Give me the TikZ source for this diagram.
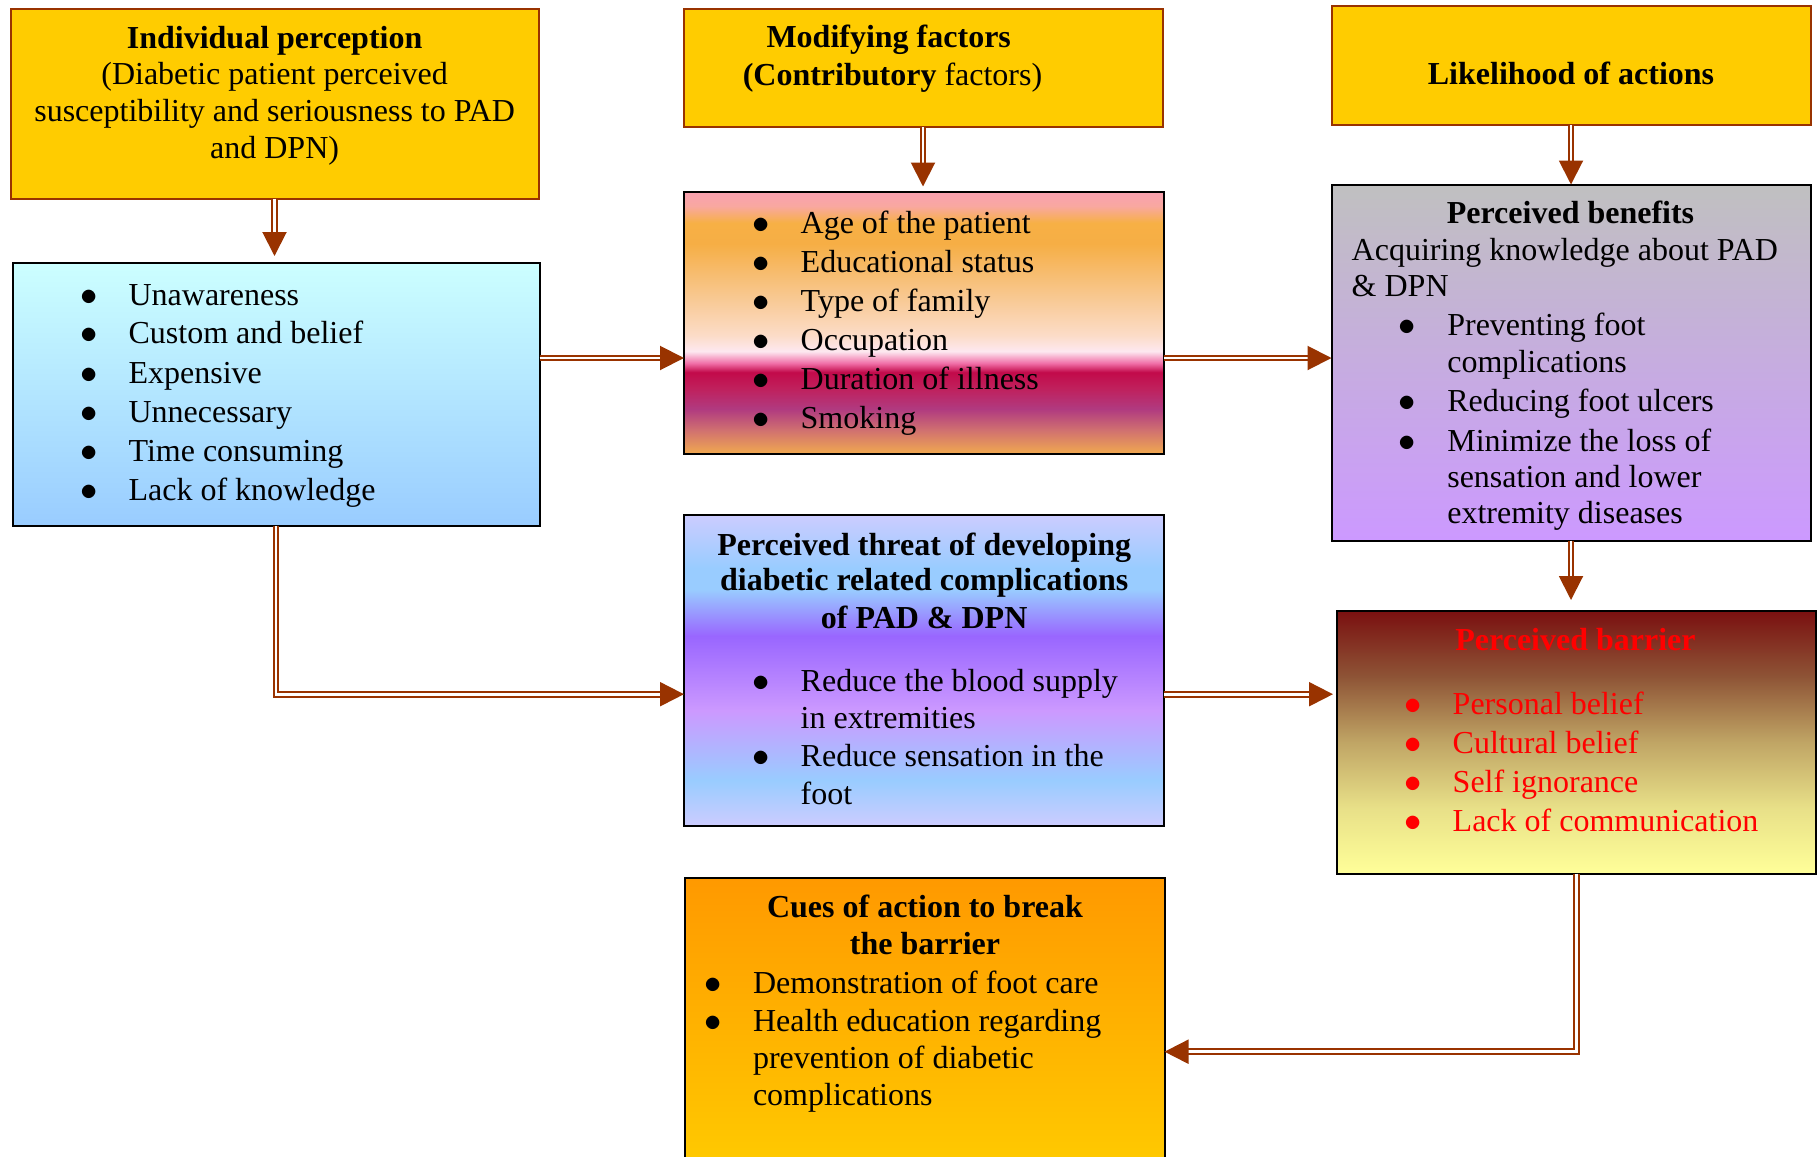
\documentclass[tikz,border=0pt]{standalone}
\usepackage{fontspec}
\setmainfont{Liberation Serif}
\usetikzlibrary{arrows.meta}
\definecolor{arrc}{HTML}{993300}
\definecolor{gold}{HTML}{FFCC00}
\definecolor{bluetop}{HTML}{CCFFFF}
\definecolor{bluebot}{HTML}{99CCFF}
\definecolor{greytop}{HTML}{C0C0C0}
\definecolor{lavbot}{HTML}{CC99FF}
\definecolor{cuetop}{HTML}{FF9900}
\definecolor{cuebot}{HTML}{FFCC00}
\definecolor{redtxt}{HTML}{FF0000}
% modifying factors shading
\definecolor{mA}{HTML}{F0A850}
\definecolor{mB}{HTML}{D07070}
\definecolor{mC}{HTML}{B03A80}
\definecolor{mD}{HTML}{C0205C}
\definecolor{mE}{HTML}{C20A4A}
\definecolor{mF}{HTML}{F070A8}
\definecolor{mG}{HTML}{FDE8F0}
\definecolor{mH}{HTML}{FCDCC8}
\definecolor{mI}{HTML}{F8C890}
\definecolor{mJ}{HTML}{F6AE45}
\definecolor{mK}{HTML}{F7B045}
\definecolor{mL}{HTML}{F9A8A0}
\definecolor{mM}{HTML}{F9A0B0}
\pgfdeclareverticalshading{shmod}{100bp}{color(0bp)=(mA); color(25bp)=(mA); color(29.5bp)=(mB); color(33.5bp)=(mC); color(37.5bp)=(mD); color(40.5bp)=(mE); color(42.25bp)=(mF); color(44.5bp)=(mG); color(47.5bp)=(mH); color(55bp)=(mI); color(65bp)=(mJ); color(69bp)=(mK); color(72.2bp)=(mL); color(75bp)=(mM); color(100bp)=(mM)}
% threat shading
\definecolor{tA}{HTML}{CCCCFF}
\definecolor{tB}{HTML}{99CCFF}
\definecolor{tC}{HTML}{9966FF}
\definecolor{tD}{HTML}{CC99FF}
\pgfdeclareverticalshading{shthreat}{100bp}{color(0bp)=(tA); color(25bp)=(tA); color(32.25bp)=(tB); color(43.5bp)=(tD); color(55.5bp)=(tC); color(63bp)=(tB); color(66.5bp)=(tB); color(75bp)=(tA); color(100bp)=(tA)}
% barrier shading
\definecolor{rA}{HTML}{7A1010}
\definecolor{rB}{HTML}{8E5436}
\definecolor{rC}{HTML}{C0A565}
\definecolor{rD}{HTML}{E8E088}
\definecolor{rE}{HTML}{FFFF99}
\pgfdeclareverticalshading{shbar}{100bp}{color(0bp)=(rE); color(25bp)=(rE); color(37.5bp)=(rD); color(50bp)=(rC); color(62.5bp)=(rB); color(75bp)=(rA); color(100bp)=(rA)}
\newcommand\mybul{\llap{$\bullet$\hspace{15.6pt}}}
\begin{document}
\begin{tikzpicture}[x=0.5pt,y=-0.5pt,
  box/.style={draw=black, line width=1pt, inner sep=0pt, outer sep=0pt, anchor=north west},
  ybox/.style={box, draw=arrc, fill=gold},
  txt/.style={inner sep=0pt, outer sep=0pt, font=\fontsize{16pt}{19pt}\selectfont},
  lt/.style={txt, anchor=base west},
  ct/.style={txt, anchor=base},
  arr/.style={draw=arrc, line width=1pt, double=white, double distance=1.4pt, -{Triangle[length=12pt,width=12pt]}}]
\useasboundingbox (0,0) rectangle (1817,1157);
\fill[white] (0,0) rectangle (1817,1157);
\clip (0,0) rectangle (1817,1157);
% boxes
\node[ybox, minimum width=264pt, minimum height=95pt] (b1) at (10.5,8.5) {};
\node[box, top color=bluetop, bottom color=bluebot, minimum width=263.5pt, minimum height=131.5pt] (b2) at (12.5,263) {};
\node[ybox, minimum width=239.5pt, minimum height=59pt] (b3) at (683.5,9) {};
\node[box, shading=shmod, minimum width=240pt, minimum height=131pt] (b4) at (684,191.5) {};
\node[ybox, minimum width=239.5pt, minimum height=59.5pt] (b5) at (1331.5,6) {};
\node[box, top color=greytop, bottom color=lavbot, minimum width=239.5pt, minimum height=178pt] (b6) at (1331.5,184.5) {};
\node[box, shading=shthreat, minimum width=240pt, minimum height=155.25pt] (b7) at (684,515) {};
\node[box, shading=shbar, minimum width=239.25pt, minimum height=131.25pt] (b8) at (1337,611) {};
\node[box, top color=cuetop, bottom color=cuebot, minimum width=239.75pt, minimum height=151pt] (b9) at (685,878) {};
% box 1 text
\node[ct] (t1a) at (274.6,48) {\textbf{Individual perception}};
\node[ct] (t1b) at (274.6,84.7) {(Diabetic patient perceived};
\node[ct] (t1c) at (274.6,121.4) {susceptibility and seriousness to PAD};
\node[ct] (t1d) at (274.6,158) {and DPN)};
% box 3 text
\node[ct] (t3a) at (888.7,47.5) {\textbf{Modifying factors}};
\node[ct] (t3b) at (892.5,85.5) {\textbf{(Contributory} factors)};
% box 5 text
\node[ct] (t5a) at (1571,84.5) {\textbf{Likelihood of actions}};
% box 2 list
\node[lt] (t2a) at (128.6,305) {\mybul Unawareness};
\node[lt] (t2b) at (128.6,343.7) {\mybul Custom and belief};
\node[lt] (t2c) at (128.6,383.1) {\mybul Expensive};
\node[lt] (t2d) at (128.6,422) {\mybul Unnecessary};
\node[lt] (t2e) at (128.6,461.3) {\mybul Time consuming};
\node[lt] (t2f) at (128.6,500.2) {\mybul Lack of knowledge};
% box 4 list
\node[lt] (t4a) at (800.7,233.5) {\mybul Age of the patient};
\node[lt] (t4b) at (800.7,272.2) {\mybul Educational status};
\node[lt] (t4c) at (800.7,311.2) {\mybul Type of family};
\node[lt] (t4d) at (800.7,350.2) {\mybul Occupation};
\node[lt] (t4e) at (800.7,389.5) {\mybul Duration of illness};
\node[lt] (t4f) at (800.7,428.2) {\mybul Smoking};
% box 6 text
\node[ct] (t6a) at (1570.5,223.2) {\textbf{Perceived benefits}};
\node[lt] (t6b) at (1351.7,260) {Acquiring knowledge about PAD};
\node[lt] (t6c) at (1351.7,296.4) {\& DPN};
\node[lt] (t6d) at (1447.3,335.7) {\mybul Preventing foot};
\node[lt] (t6e) at (1447.3,372) {complications};
\node[lt] (t6f) at (1447.3,411.4) {\mybul Reducing foot ulcers};
\node[lt] (t6g) at (1447.3,451.8) {\mybul Minimize the loss of};
\node[lt] (t6h) at (1447.3,487.5) {sensation and lower};
\node[lt] (t6i) at (1447.3,523.2) {extremity diseases};
% box 7 text
\node[ct] (t7a) at (924.2,555) {\textbf{Perceived threat of developing}};
\node[ct] (t7b) at (924.2,590.7) {\textbf{diabetic related complications}};
\node[ct] (t7c) at (924.2,628.3) {\textbf{of PAD \& DPN}};
\node[lt] (t7d) at (800.7,691.7) {\mybul Reduce the blood supply};
\node[lt] (t7e) at (800.7,728.3) {in extremities};
\node[lt] (t7f) at (800.7,766.7) {\mybul Reduce sensation in the};
\node[lt] (t7g) at (800.7,804) {foot};
% box 8 text
\node[ct, text=redtxt] (t8a) at (1575.5,650) {\textbf{Perceived barrier}};
\node[lt, text=redtxt] (t8b) at (1452.7,714.3) {\mybul Personal belief};
\node[lt, text=redtxt] (t8c) at (1452.7,753.3) {\mybul Cultural belief};
\node[lt, text=redtxt] (t8d) at (1452.7,792.7) {\mybul Self ignorance};
\node[lt, text=redtxt] (t8e) at (1452.7,831.7) {\mybul Lack of communication};
% box 9 text
\node[ct] (t9a) at (925,917.3) {\textbf{Cues of action to break}};
\node[ct] (t9b) at (925,954.3) {\textbf{the barrier}};
\node[lt] (t9c) at (753,993.3) {\mybul Demonstration of foot care};
\node[lt] (t9d) at (753,1031.7) {\mybul Health education regarding};
\node[lt] (t9e) at (753,1068.3) {prevention of diabetic};
\node[lt] (t9f) at (753,1105) {complications};
% connector levels
\coordinate (ya) at (0,358);
\coordinate (yb) at (0,694.2);
\coordinate (yc) at (0,1051.7);
% connectors
\draw[arr, shorten >=3.5pt] (b1.south) -- (b1.south |- b2.north);
\draw[arr, shorten >=2.5pt] (b3.south) -- (b3.south |- b4.north);
\draw[arr] (b5.south) -- (b5.south |- b6.north);
\draw[arr, shorten >=5.5pt] (b6.south) -- (b6.south |- b8.north);
\draw[arr] (b2.east |- ya) -- (b4.west |- ya);
\draw[arr] (b4.east |- ya) -- (b6.west |- ya);
\draw[arr, shorten >=2pt] (b7.east |- yb) -- (b8.west |- yb);
\draw[arr] (b2.south) |- (b7.west |- yb);
\draw[arr] (b8.south) |- (b9.east |- yc);
\end{tikzpicture}
\end{document}
